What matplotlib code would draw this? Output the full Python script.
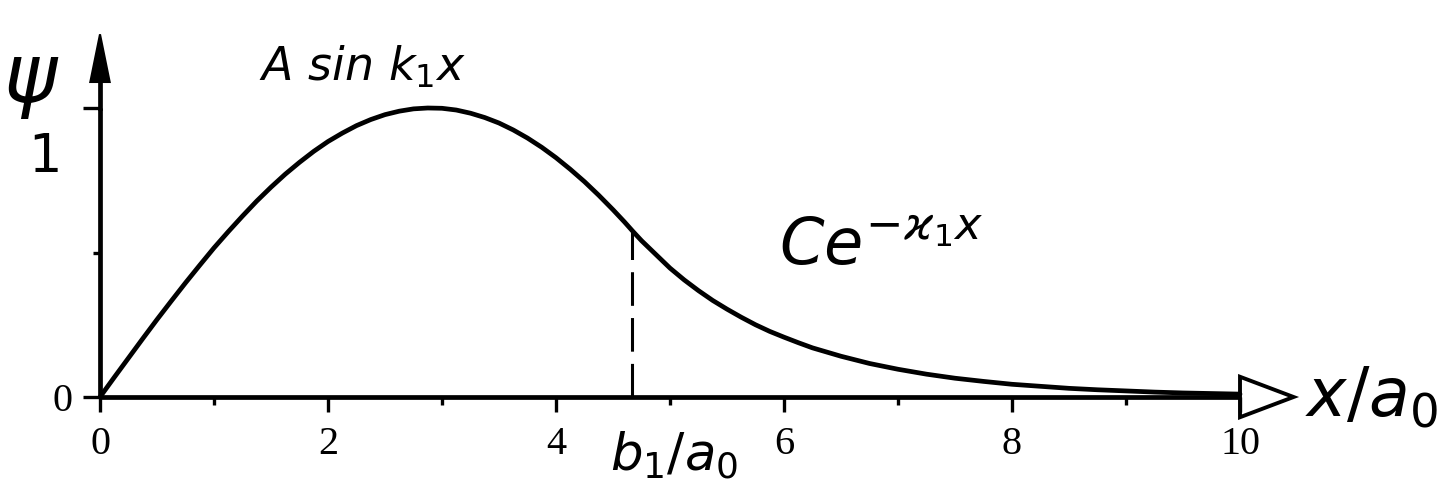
import numpy as np
import matplotlib
matplotlib.use("Agg")
import matplotlib.pyplot as plt
from matplotlib.patches import Polygon

plt.rcParams['mathtext.fontset'] = 'dejavusans'

# ---- data ----
x_vals = [0.0, 0.125, 0.25, 0.375, 0.5, 0.625, 0.75, 0.875, 1.0, 1.125, 1.25, 1.375,
          1.5, 1.625, 1.75, 1.875, 2.0, 2.125, 2.25, 2.375, 2.5, 2.625, 2.75, 2.875,
          3.0, 3.125, 3.25, 3.375, 3.5, 3.625, 3.75, 3.875, 4.0, 4.125, 4.25, 4.375,
          4.5, 4.6, 4.67, 4.75, 5.0, 5.125, 5.25, 5.375, 5.5, 5.625, 5.75, 5.875,
          6.0, 6.125, 6.25, 6.5, 6.75, 7.0, 7.25, 7.5, 7.75, 8.0, 8.25, 8.5, 8.75,
          9.0, 9.25, 9.5, 9.75, 10.0]
psi_vals = [0.0, 0.068, 0.135, 0.202, 0.268, 0.332, 0.395, 0.456, 0.516, 0.572,
            0.626, 0.678, 0.726, 0.771, 0.812, 0.850, 0.884, 0.913, 0.939, 0.960,
            0.977, 0.989, 0.997, 1.000, 0.999, 0.993, 0.982, 0.967, 0.948, 0.924,
            0.896, 0.864, 0.828, 0.788, 0.745, 0.698, 0.648, 0.606, 0.575, 0.541,
            0.446, 0.405, 0.368, 0.334, 0.304, 0.276, 0.250, 0.227, 0.207, 0.188,
            0.170, 0.141, 0.116, 0.096, 0.079, 0.065, 0.054, 0.044, 0.037, 0.030,
            0.025, 0.021, 0.017, 0.014, 0.012, 0.010]
b_over_a = 4.67
b_psi = 0.575
x_major = [0, 2, 4, 6, 8, 10]
x_major_labels = ['0', '2', '4', '6', '8', '10']
x_minor = [1, 3, 5, 7, 9]
y_major = [0, 1.0]
y_major_labels = ['0', '']
y_minor = [0.5]

W, H = 1440, 500
fig = plt.figure(figsize=(W / 100, H / 100), dpi=100)
# x: 0 -> px 100, 10 -> px 1240 ; y: 0 -> py 397, 1 -> py 108
ax = fig.add_axes([100 / W, (H - 397) / H, 1140 / W, 289 / H])
ax.set_xlim(0, 10)
ax.set_ylim(0, 1)

lw = 3.4
ax.plot(x_vals, psi_vals, color='black', lw=lw, clip_on=False,
        solid_capstyle='round', solid_joinstyle='round', zorder=3)
ax.plot([b_over_a, b_over_a], [0, b_psi], color='black', lw=2.2,
        dashes=(11, 4), clip_on=False, zorder=3)

for s in ['top', 'right']:
    ax.spines[s].set_visible(False)
for s in ['left', 'bottom']:
    ax.spines[s].set_linewidth(lw)
    ax.spines[s].set_capstyle('butt')

ax.set_xticks(x_major)
ax.set_xticklabels(x_major_labels)
ax.set_xticks(x_minor, minor=True)
ax.set_yticks(y_major)
ax.set_yticklabels(y_major_labels)
ax.set_yticks(y_minor, minor=True)
ax.tick_params(axis='x', which='major', length=11, width=2.4, direction='out', pad=10,
               labelsize=29)
ax.tick_params(axis='x', which='minor', length=6, width=2.4, direction='out')
ax.tick_params(axis='y', which='major', length=12, width=2.4, direction='out', pad=8,
               labelsize=29)
ax.tick_params(axis='y', which='minor', length=5, width=2.4, direction='out')
for t in ax.get_xticklabels() + ax.get_yticklabels():
    t.set_fontfamily('Liberation Serif')

# y-axis arrow (filled) and x-axis arrow (hollow)
ax.plot([0, 0], [1, 1.15], color='black', lw=lw, clip_on=False)
tri_y = Polygon([[-0.085, 1.09], [0.085, 1.09], [0.0, 1.255]], closed=True,
                facecolor='black', edgecolor='black', lw=1.5, clip_on=False,
                transform=ax.transData)
ax.add_patch(tri_y)
tri_x = Polygon([[10.0, -0.07], [10.0, 0.07], [10.47, 0.0]], closed=True,
                facecolor='white', edgecolor='black', lw=2.8, clip_on=False,
                joinstyle='miter', transform=ax.transData)
ax.add_patch(tri_x)

# handwritten-style labels
ax.text(-0.60, 1.09, r'$\psi$', fontsize=58, ha='center', va='center', clip_on=False)
ax.text(-0.50, 0.83, r'$1$', fontsize=38, ha='center', va='center', clip_on=False)
ax.text(2.30, 1.14, r'$A\ sin\ k_1x$', fontsize=33, ha='center', va='center',
        clip_on=False)
ax.text(6.85, 0.52, r'$Ce^{-\varkappa_1 x}$', fontsize=46, ha='center', va='center')
ax.text(11.15, 0.0, r'$x/a_0$', fontsize=48, ha='center', va='center', clip_on=False)
ax.text(5.04, -0.20, r'$b_1/a_0$', fontsize=37, ha='center', va='center', clip_on=False)

fig.savefig('out.png', dpi=100, facecolor='white')
